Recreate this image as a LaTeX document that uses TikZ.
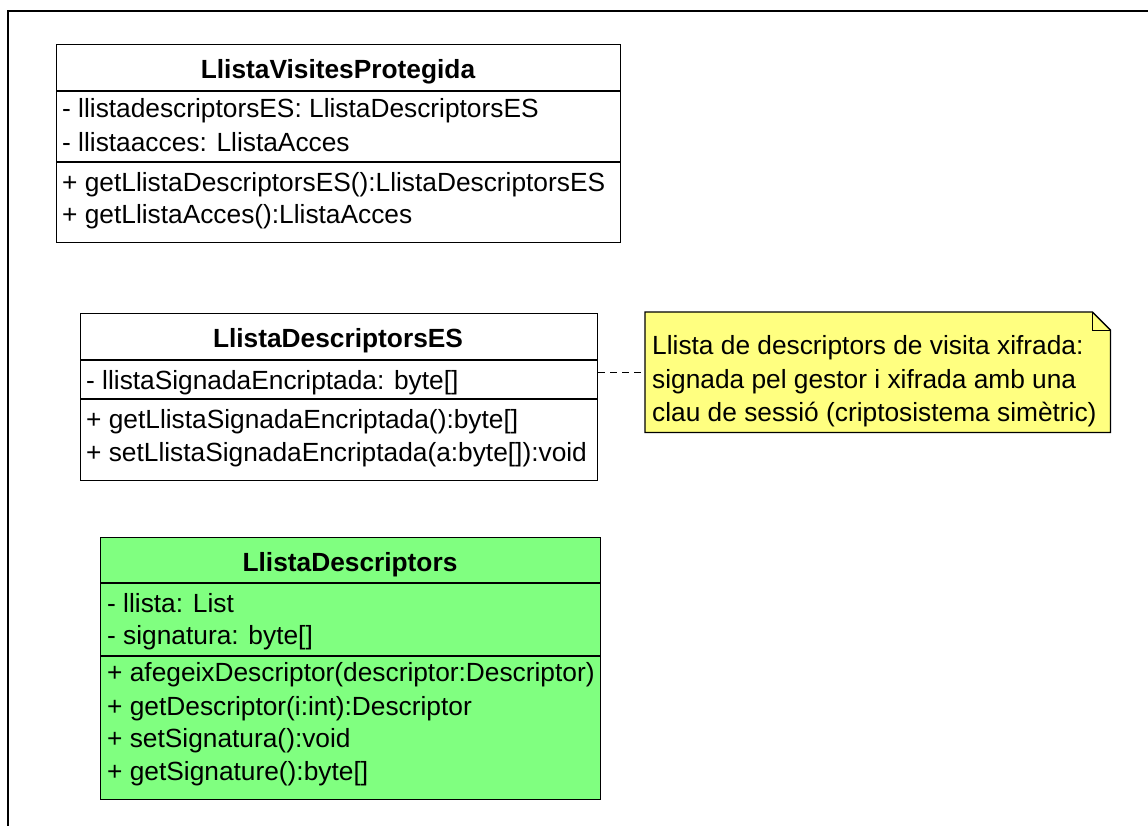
\documentclass[tikz,border=0pt]{standalone}
\usepackage{fontspec}
\setmainfont{Liberation Sans}
\definecolor{classgreen}{RGB}{128,255,128}
\definecolor{noteyellow}{RGB}{255,255,128}
\begin{document}
\begin{tikzpicture}[x=1pt,y=-1pt,
  classbox/.style={draw=black, line width=1.3pt, rectangle, inner sep=0pt, anchor=north west},
  member/.style={anchor=base west, inner sep=0pt, font=\fontsize{26.3}{32}\selectfont},
  classtitle/.style={anchor=base, inner sep=0pt, font=\fontsize{26.3}{32}\selectfont\bfseries},
  compartment/.style={line width=1.3pt},
  notetext/.style={anchor=base west, inner sep=0pt, font=\fontsize{26.3}{32}\selectfont}
]
\useasboundingbox (0,0) rectangle (1148,826);
% outer frame
\draw[line width=2pt] (8,826) -- (8,11) -- (1148,11);

% class LlistaVisitesProtegida
\node[classbox, minimum width=564pt, minimum height=198pt] (vis) at (56,44) {};
\draw[compartment] (vis.north west) ++(0,47) -- ++(564,0);
\draw[compartment] (vis.north west) ++(0,118) -- ++(564,0);
\node[classtitle] (visT) at (338,79) {LlistaVisitesProtegida};
\node[member] (visA1) at (62,118) {- llistadescriptorsES: LlistaDescriptorsES};
\node[member] (visA2) at (62,152) {- llistaacces: LlistaAcces};
\node[member] (visM1) at (62,192) {+ getLlistaDescriptorsES():LlistaDescriptorsES};
\node[member] (visM2) at (62,224) {+ getLlistaAcces():LlistaAcces};

% class LlistaDescriptorsES
\node[classbox, minimum width=517pt, minimum height=167pt] (des) at (80,313) {};
\draw[compartment] (des.north west) ++(0,47) -- ++(517,0);
\draw[compartment] (des.north west) ++(0,86) -- ++(517,0);
\node[classtitle] (desT) at (338,347) {LlistaDescriptorsES};
\node[member] (desA1) at (86,389) {- llistaSignadaEncriptada: byte[]};
\node[member] (desM1) at (86,428) {+ getLlistaSignadaEncriptada():byte[]};
\node[member] (desM2) at (86,461) {+ setLlistaSignadaEncriptada(a:byte[]):void};

% note attached to LlistaDescriptorsES
\node[inner sep=0pt, minimum width=465pt, minimum height=120pt, anchor=north west] (note) at (645,312) {};
\draw[line width=1.3pt, fill=noteyellow]
  (note.north west) -- ([xshift=-18pt]note.north east) -- ([yshift=-18pt]note.north east)
  -- (note.south east) -- (note.south west) -- cycle;
\draw[line width=1pt] ([xshift=-18pt]note.north east) -- ([xshift=-18pt,yshift=-18pt]note.north east)
  -- ([yshift=-18pt]note.north east);
\node[notetext] (noteL1) at (652,354) {Llista de descriptors de visita xifrada:};
\node[notetext] (noteL2) at (652,388) {signada pel gestor i xifrada amb una};
\node[notetext] (noteL3) at (652,421) {clau de sessió (criptosistema simètric)};
\draw[line width=1.3pt, dash pattern=on 7pt off 5pt] (note.west -| des.east) -- (note.west);

% class LlistaDescriptors
\node[classbox, fill=classgreen, minimum width=500pt, minimum height=262pt] (lld) at (100,537) {};
\draw[compartment] (lld.north west) ++(0,46) -- ++(500,0);
\draw[compartment] (lld.north west) ++(0,119) -- ++(500,0);
\node[classtitle] (lldT) at (350,571) {LlistaDescriptors};
\node[member] (lldA1) at (107,612) {- llista: List};
\node[member] (lldA2) at (107,644) {- signatura: byte[]};
\node[member] (lldM1) at (107,681) {+ afegeixDescriptor(descriptor:Descriptor)};
\node[member] (lldM2) at (107,715) {+ getDescriptor(i:int):Descriptor};
\node[member] (lldM3) at (107,747) {+ setSignatura():void};
\node[member] (lldM4) at (107,780) {+ getSignature():byte[]};
\end{tikzpicture}
\end{document}
